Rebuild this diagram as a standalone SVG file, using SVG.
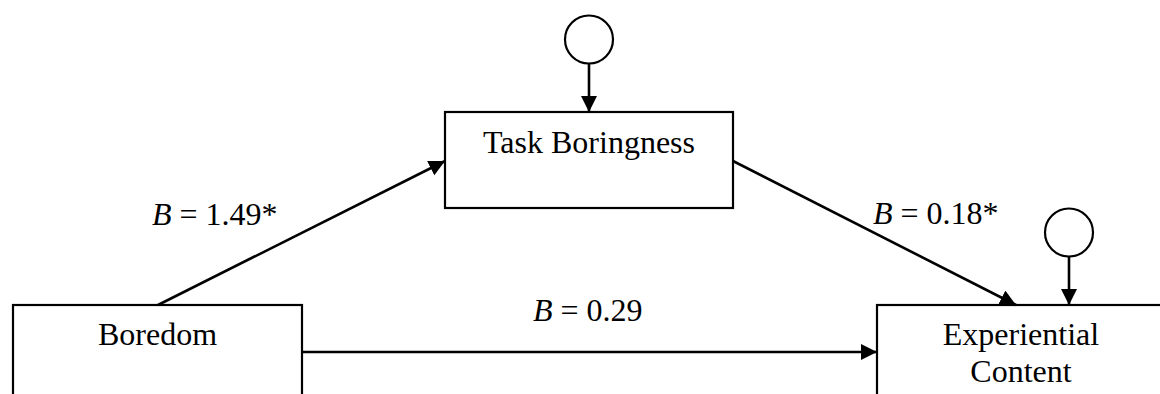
<svg xmlns="http://www.w3.org/2000/svg" width="1160" height="394" viewBox="0 0 1160 394">
<style>
.box{fill:#fff;stroke:#000;stroke-width:2.2}
.circ{fill:#fff;stroke:#000;stroke-width:2.2}
.lbl{font-family:"Liberation Serif","Times New Roman",serif;font-size:32px;fill:#000}
.c{text-anchor:middle}
.edge{stroke:#000;stroke-width:2.6;fill:none}
</style>
<defs>
<marker id="ah" markerUnits="userSpaceOnUse" markerWidth="17" markerHeight="17" refX="16" refY="8" orient="auto">
<path d="M0,0 L16,8 L0,16 z" fill="#000"/>
</marker>
</defs>
<rect width="1160" height="394" fill="#fff"/>
<g id="node-boredom">
<rect class="box" x="13" y="305" width="289" height="120"/>
<text class="lbl c" x="157.5" y="345">Boredom</text>
</g>
<g id="node-task">
<rect class="box" x="445" y="112" width="288" height="96"/>
<text class="lbl c" x="589" y="153">Task Boringness</text>
</g>
<g id="node-experiential">
<rect class="box" x="877" y="305" width="290" height="120"/>
<text class="lbl c" x="1021" y="345">Experiential</text>
<text class="lbl c" x="1021" y="382">Content</text>
</g>
<g id="node-err1">
<circle class="circ" cx="589" cy="39.5" r="24"/>
</g>
<g id="node-err2">
<circle class="circ" cx="1069" cy="232.5" r="24"/>
</g>
<g id="connectors">
<line class="edge" x1="158" y1="305" x2="445" y2="161" marker-end="url(#ah)"/>
<line class="edge" x1="733" y1="161" x2="1016" y2="305" marker-end="url(#ah)"/>
<line class="edge" x1="302" y1="352" x2="877" y2="352" marker-end="url(#ah)"/>
<line class="edge" x1="589" y1="63.5" x2="589" y2="112" marker-end="url(#ah)"/>
<line class="edge" x1="1069" y1="256.5" x2="1069" y2="305" marker-end="url(#ah)"/>
</g>
<g id="labels">
<text class="lbl" x="152" y="225"><tspan font-style="italic">B</tspan> = 1.49*</text>
<text class="lbl" x="533" y="321"><tspan font-style="italic">B</tspan> = 0.29</text>
<text class="lbl" x="873" y="224"><tspan font-style="italic">B</tspan> = 0.18*</text>
</g>
</svg>
